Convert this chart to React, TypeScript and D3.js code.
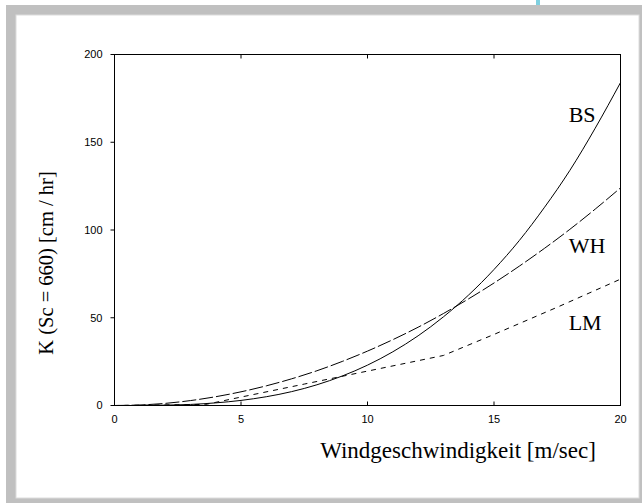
import React, { useEffect, useRef } from "react";
import * as d3 from "d3";

// wind speed [m/sec] and transfer velocity K(Sc=660) [cm/hr]
const windSpeed = [0, 1, 2, 3, 4, 5, 6, 7, 8, 9, 10, 11, 12, 13, 14, 15, 16, 17, 18, 19, 20];
const bsValues = [0, 0, 0.2, 0.6, 1.5, 2.9, 5, 7.9, 11.8, 16.8, 23, 30.6, 39.7, 50.5, 63, 77.5, 94, 113, 134, 158, 184];
const whValues = [0, 0.3, 1.2, 2.8, 5, 7.8, 11.2, 15.2, 19.8, 25.1, 31, 37.5, 44.6, 52.4, 60.8, 69.8, 79.4, 89.6, 100.4, 111.9, 124];
const lmSpeed = [0, 2, 3.6, 5, 7.5, 10, 13, 15, 17.5, 20];
const lmValues = [0, 0.35, 0.6, 4.8, 12.2, 19.6, 28.5, 40.5, 56, 72];
const xTicks = [0, 5, 10, 15, 20];
const yTicks = [0, 50, 100, 150, 200];
const seriesNames = ["BS", "WH", "LM"];

const W = 642;
const H = 503;

export default function App() {
  const ref = useRef<SVGSVGElement>(null);

  useEffect(() => {
    const svg = d3.select(ref.current);
    svg.selectAll("*").remove();

    // frame
    svg.append("rect").attr("x", 6).attr("y", 5).attr("width", W - 6).attr("height", H - 5).attr("fill", "#c0c0c0");
    svg.append("rect").attr("x", 16).attr("y", 15).attr("width", 623).attr("height", 483)
      .attr("fill", "#fff").attr("stroke", "#dcdcdc").attr("stroke-width", 1);
    svg.append("rect").attr("x", 536).attr("y", 0).attr("width", 4).attr("height", 5).attr("fill", "#7fd0e0");

    const x = d3.scaleLinear().domain([0, 20]).range([114.5, 620.5]);
    const y = d3.scaleLinear().domain([0, 200]).range([405.5, 54.5]);

    const g = svg.append("g");

    // plot box
    g.append("rect")
      .attr("x", x(0)).attr("y", y(200))
      .attr("width", x(20) - x(0)).attr("height", y(0) - y(200))
      .attr("fill", "none").attr("stroke", "#000").attr("stroke-width", 1);

    // x ticks (inside, top and bottom)
    xTicks.slice(1, -1).forEach(t => {
      g.append("line").attr("x1", x(t)).attr("x2", x(t)).attr("y1", y(0)).attr("y2", y(0) - 4).attr("stroke", "#000");
      g.append("line").attr("x1", x(t)).attr("x2", x(t)).attr("y1", y(200)).attr("y2", y(200) + 4).attr("stroke", "#000");
    });
    xTicks.forEach(t => {
      g.append("text").attr("x", x(t)).attr("y", y(0) + 17)
        .attr("text-anchor", "middle")
        .style("font-family", "'Liberation Sans', Arial, sans-serif").style("font-size", "11px")
        .text(t);
    });

    // y ticks (outside)
    yTicks.forEach(t => {
      g.append("line").attr("x1", x(0) - 4).attr("x2", x(0)).attr("y1", y(t)).attr("y2", y(t)).attr("stroke", "#000");
      g.append("text").attr("x", x(0) - 12).attr("y", y(t)).attr("dy", "0.35em")
        .attr("text-anchor", "end")
        .style("font-family", "'Liberation Sans', Arial, sans-serif").style("font-size", "11px")
        .text(t);
    });

    const serif = "'Liberation Serif', 'Times New Roman', serif";

    // axis titles
    g.append("text").attr("x", 458).attr("y", 458).attr("text-anchor", "middle")
      .style("font-family", serif).style("font-size", "23px")
      .text("Windgeschwindigkeit [m/sec]");
    g.append("text").attr("transform", "translate(53,263) rotate(-90)").attr("text-anchor", "middle")
      .style("font-family", serif).style("font-size", "20.5px")
      .text("K (Sc = 660) [cm / hr]");

    // curves
    const line = d3.line<[number, number]>()
      .x(d => x(d[0])).y(d => y(d[1]));

    const bs = windSpeed.map((u, i) => [u, bsValues[i]] as [number, number]);
    const wh = windSpeed.map((u, i) => [u, whValues[i]] as [number, number]);
    const lm = lmSpeed.map((u, i) => [u, lmValues[i]] as [number, number]);

    g.append("path").attr("d", line.curve(d3.curveMonotoneX)(bs))
      .attr("fill", "none").attr("stroke", "#000").attr("stroke-width", 1);
    g.append("path").attr("d", line.curve(d3.curveMonotoneX)(wh))
      .attr("fill", "none").attr("stroke", "#000").attr("stroke-width", 1)
      .attr("stroke-dasharray", "14,3");
    g.append("path").attr("d", line.curve(d3.curveLinear)(lm))
      .attr("fill", "none").attr("stroke", "#000").attr("stroke-width", 1)
      .attr("stroke-dasharray", "5,5");

    // curve labels
    const labelAt: [number, number][] = [[17.95, 161.5], [17.95, 87], [17.95, 43]];
    seriesNames.forEach((name, i) => {
      g.append("text").attr("x", x(labelAt[i][0])).attr("y", y(labelAt[i][1]))
        .style("font-family", serif).style("font-size", "22px")
        .text(name);
    });
  }, []);

  return (
    <svg ref={ref} width={W} height={H}
      style={{ position: "absolute", left: 0, top: 0, background: "#fff" }} />
  );
}
